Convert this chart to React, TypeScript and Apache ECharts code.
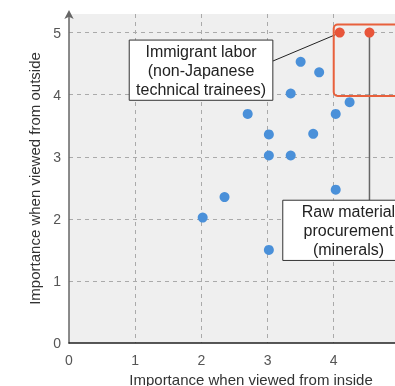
import React, { useEffect, useRef } from "react";
import * as echarts from "echarts";

const xTicks = [0, 1, 2, 3, 4, 5];
const yTicks = [0, 1, 2, 3, 4, 5];
const bluePoints: [number, number][] = [
  [3.5, 4.53],
  [3.78, 4.36],
  [3.35, 4.02],
  [2.7, 3.69],
  [4.24, 3.88],
  [4.03, 3.69],
  [3.02, 3.36],
  [3.69, 3.37],
  [3.02, 3.02],
  [3.35, 3.02],
  [4.03, 2.47],
  [2.35, 2.35],
  [2.02, 2.02],
  [3.02, 1.5],
];
const highlightPoints: [number, number][] = [
  [4.09, 5],
  [4.54, 5],
];
const labelImmigrant = ["Immigrant labor", "(non-Japanese", "technical trainees)"];
const labelRaw = ["Raw material", "procurement", "(minerals)"];
const xName = "Importance when viewed from inside";
const yName = "Importance when viewed from outside";

const FONT = "Liberation Sans, Arial, Helvetica, sans-serif";

export default function App() {
  const ref = useRef<HTMLDivElement>(null);
  useEffect(() => {
    if (!ref.current) return;
    const chart = echarts.init(ref.current, undefined, { renderer: "svg" });
    chart.setOption({
      animation: false,
      textStyle: { fontFamily: FONT },
      grid: {
        left: 69,
        right: -38,
        top: 14,
        bottom: 43,
        show: true,
        backgroundColor: "#efefef",
        borderWidth: 0,
        containLabel: false,
        outerBoundsMode: "none",
      },
      xAxis: {
        type: "value",
        min: 0,
        max: 5.5,
        interval: 1,
        name: xName,
        nameLocation: "middle",
        nameGap: 29,
        nameTextStyle: { fontSize: 15, color: "#333", fontFamily: FONT },
        axisLine: { show: true, lineStyle: { color: "#222", width: 1.5 } },
        axisTick: { show: false },
        axisLabel: {
          fontSize: 14,
          color: "#555",
          margin: 10,
          fontFamily: FONT,
          formatter: (v: number) => (xTicks.includes(v) ? String(v) : ""),
        },
        splitLine: {
          show: true,
          showMinLine: false,
          showMaxLine: false,
          lineStyle: { color: "#aaa", type: [4, 4], width: 1 },
        },
      },
      yAxis: {
        type: "value",
        min: 0,
        max: 5.3,
        interval: 1,
        name: yName,
        nameLocation: "middle",
        nameGap: 23,
        nameTextStyle: { fontSize: 15, color: "#333", fontFamily: FONT },
        axisLine: {
          show: true,
          symbol: ["none", "arrow"],
          symbolSize: [7, 9],
          symbolOffset: [0, 4],
          lineStyle: { color: "#666", width: 1.5 },
        },
        axisTick: { show: false },
        axisLabel: {
          fontSize: 14,
          color: "#555",
          margin: 8,
          fontFamily: FONT,
          formatter: (v: number) => (yTicks.includes(v) ? String(v) : ""),
        },
        splitLine: {
          show: true,
          showMinLine: false,
          showMaxLine: false,
          lineStyle: { color: "#aaa", type: [4, 4], width: 1 },
        },
      },
      series: [
        {
          type: "scatter",
          data: bluePoints,
          symbolSize: 10,
          itemStyle: { color: "#4a90d9", opacity: 1 },
          z: 3,
        },
        {
          type: "scatter",
          data: highlightPoints,
          symbolSize: 10,
          itemStyle: { color: "#e8553a", opacity: 1 },
          z: 5,
        },
      ],
    });

    const p = (x: number, y: number) =>
      chart.convertToPixel({ gridIndex: 0 }, [x, y]) as number[];

    const r0 = p(4.0, 5.13);
    const r1 = p(5.6, 3.98);
    const b0 = p(0.91, 4.88);
    const b1 = p(3.08, 3.91);
    const c0 = p(3.23, 2.3);
    const c1 = p(5.25, 1.33);
    const hp0 = p(highlightPoints[0][0], highlightPoints[0][1]);
    const hp1 = p(highlightPoints[1][0], highlightPoints[1][1]);

    const textBlock = (lines: string[], cx: number, top: number, bottom: number) => ({
      type: "text",
      z: 20,
      style: {
        text: lines.join("\n"),
        x: cx,
        y: (top + bottom) / 2,
        align: "center",
        verticalAlign: "middle",
        fontSize: 16,
        lineHeight: 19,
        fill: "#222",
        fontFamily: FONT,
      },
    });

    chart.setOption({
      graphic: [
        {
          type: "rect",
          z: 6,
          shape: { x: r0[0], y: r0[1], width: r1[0] - r0[0], height: r1[1] - r0[1], r: 4 },
          style: { fill: "none", stroke: "#e8603c", lineWidth: 2 },
        },
        {
          type: "line",
          z: 4,
          shape: { x1: hp1[0], y1: hp1[1], x2: hp1[0], y2: c0[1] },
          style: { stroke: "#666", lineWidth: 1.5 },
        },
        {
          type: "line",
          z: 4,
          shape: { x1: b1[0], y1: b0[1] + 21, x2: hp0[0] - 4, y2: hp0[1] + 2 },
          style: { stroke: "#222", lineWidth: 1 },
        },
        {
          type: "rect",
          z: 10,
          shape: { x: b0[0], y: b0[1], width: b1[0] - b0[0], height: b1[1] - b0[1] },
          style: { fill: "#fff", stroke: "#333", lineWidth: 1 },
        },
        textBlock(labelImmigrant, (b0[0] + b1[0]) / 2, b0[1], b1[1]),
        {
          type: "rect",
          z: 10,
          shape: { x: c0[0], y: c0[1], width: c1[0] - c0[0], height: c1[1] - c0[1] },
          style: { fill: "#fff", stroke: "#333", lineWidth: 1 },
        },
        textBlock(labelRaw, 348.5, c0[1], c1[1]),
      ],
    });

    return () => chart.dispose();
  }, []);
  return (
    <div
      ref={ref}
      style={{ position: "fixed", left: 0, top: 0, width: 395, height: 386 }}
    />
  );
}
